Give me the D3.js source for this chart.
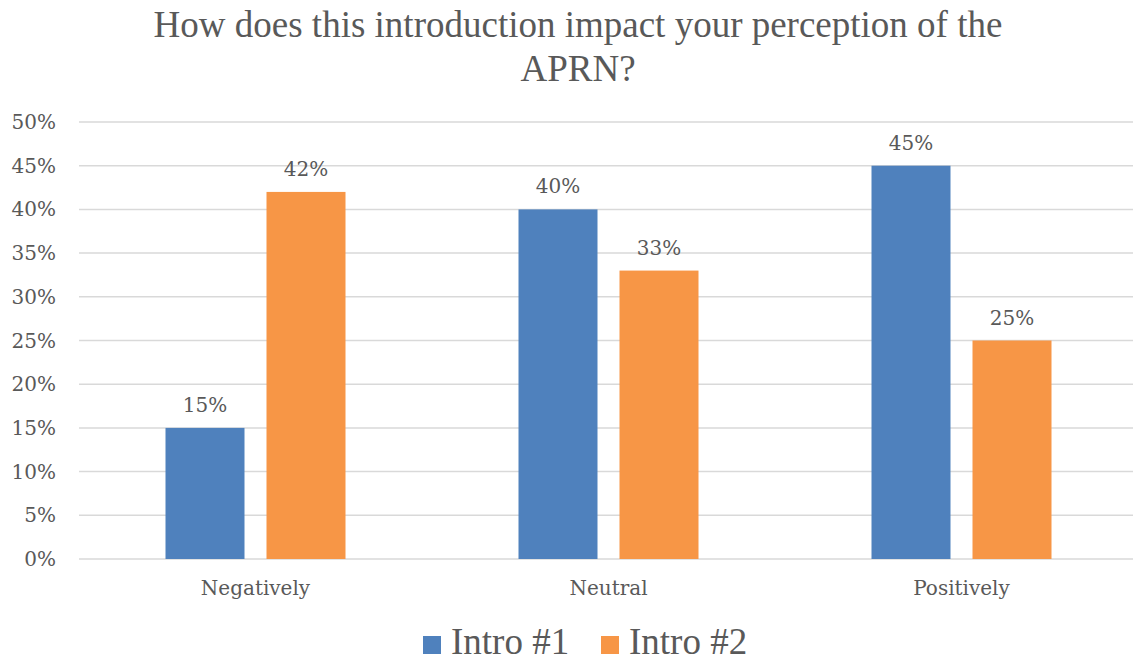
<!DOCTYPE html>
<meta charset="utf-8">
<head>
    <title>APRN perception</title>
    <style>
        html, body { margin: 0; padding: 0; background: #fff; }
        svg { display: block; }
        .grid line { stroke: #d9d9d9; stroke-width: 1.5; }
        .tick-label, .cat-label, .value-label {
            font-family: "DejaVu Serif", serif;
            fill: #595959;
        }
        .title, .legend text {
            font-family: "Liberation Serif", "Times New Roman", serif;
            fill: #595959;
        }
    </style>
</head>
<body>
    <svg id="chart" width="1133" height="662"></svg>
    <script src="https://cdn.jsdelivr.net/npm/d3@7/dist/d3.min.js"></script>
    <script>
        // chart data
        const categories = ['Negatively', 'Neutral', 'Positively'];
        const seriesNames = ['Intro #1', 'Intro #2'];
        const intro1 = [15, 40, 45];
        const intro2 = [42, 33, 25];
        const yTicks = [0, 5, 10, 15, 20, 25, 30, 35, 40, 45, 50];
        const colors = ['#4f81bd', '#f79646'];

        const svg = d3.select('#chart');
        const series = [intro1, intro2];

        const x = d3.scaleBand()
                    .domain(categories)
                    .range([79, 1138]);

        const y = d3.scaleLinear()
                    .domain([0, 50])
                    .range([559, 122]);

        const barW = 79, gap = 22;
        const xs = d3.scaleOrdinal()
                    .domain(seriesNames)
                    .range([-gap / 2 - barW, gap / 2]);

        // title
        const title = svg.append('text')
            .attr('class', 'title')
            .attr('text-anchor', 'middle')
            .style('font-size', '37px');
        title.append('tspan').attr('x', 578).attr('y', 37)
            .text('How does this introduction impact your perception of the');
        title.append('tspan').attr('x', 578).attr('y', 81)
            .text('APRN?');

        // gridlines
        svg.append('g').attr('class', 'grid')
            .selectAll('line')
            .data(yTicks)
            .enter().append('line')
            .attr('x1', 79)
            .attr('x2', 1133)
            .attr('y1', d => y(d))
            .attr('y2', d => y(d));

        // y tick labels
        svg.append('g')
            .selectAll('text')
            .data(yTicks)
            .enter().append('text')
            .attr('class', 'tick-label')
            .attr('x', 56)
            .attr('y', d => y(d))
            .attr('dy', '0.35em')
            .attr('text-anchor', 'end')
            .style('font-size', '20px')
            .text(d => d + '%');

        // bars
        seriesNames.forEach((name, si) => {
            const g = svg.append('g');
            g.selectAll('rect')
                .data(series[si])
                .enter().append('rect')
                .attr('x', (d, i) => x(categories[i]) + x.bandwidth() / 2 + xs(name))
                .attr('y', d => y(d))
                .attr('width', barW)
                .attr('height', d => y(0) - y(d))
                .attr('fill', colors[si]);

            g.selectAll('text')
                .data(series[si])
                .enter().append('text')
                .attr('class', 'value-label')
                .attr('x', (d, i) => x(categories[i]) + x.bandwidth() / 2 + xs(name) + barW / 2)
                .attr('y', d => y(d) - 16)
                .attr('text-anchor', 'middle')
                .style('font-size', '20px')
                .text(d => d + '%');
        });

        // category labels
        svg.append('g')
            .selectAll('text')
            .data(categories)
            .enter().append('text')
            .attr('class', 'cat-label')
            .attr('x', d => x(d) + x.bandwidth() / 2)
            .attr('y', 595)
            .attr('text-anchor', 'middle')
            .style('font-size', '20px')
            .text(d => d);

        // legend
        const legend = svg.append('g').attr('class', 'legend');
        const legX = [423, 601];
        seriesNames.forEach((name, i) => {
            legend.append('rect')
                .attr('x', legX[i])
                .attr('y', 636)
                .attr('width', 18)
                .attr('height', 18)
                .attr('fill', colors[i]);
            legend.append('text')
                .attr('x', legX[i] + 28)
                .attr('y', 654)
                .style('font-size', '37px')
                .text(name);
        });
    </script>
</body>
</html>
